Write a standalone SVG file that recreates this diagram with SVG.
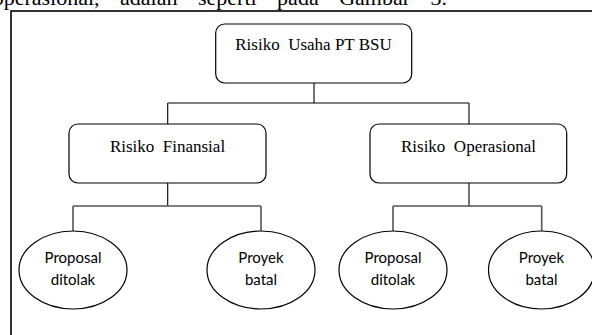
<svg xmlns="http://www.w3.org/2000/svg" width="592" height="335" viewBox="0 0 592 335">
<style>
.box{fill:#fff;stroke:#000;stroke-width:1.2}
.ell{fill:#fff;stroke:#000;stroke-width:1.2}
.t{font-family:"Liberation Serif","Times New Roman",serif;font-size:17px;fill:#000;text-anchor:middle;white-space:pre}
.e{font-family:Lato,"Liberation Sans",sans-serif;font-size:15px;fill:#000;text-anchor:middle}
.c1{fill:none;stroke:#000;stroke-width:1.1}
.c2{fill:none;stroke:#555;stroke-width:1.6}
</style>
<rect width="592" height="335" fill="#fff"/>
<text x="447" y="5" style="font-family:'Liberation Serif','Times New Roman',serif;font-size:22px;text-anchor:end;word-spacing:15px" fill="#000">operasional, adalah seperti pada Gambar 3.</text>
<rect id="frame" x="11" y="11" width="620" height="400" fill="none" stroke="#000" stroke-width="1.6"/>
<g id="connectors">
<path class="c1" d="M314 83V103M167.7 103H469M167.7 103V124M469 103V124"/>
<path class="c1" d="M167.7 183V206M469 183V206"/>
<path class="c2" d="M73 206H261M73 206V231M261 206V231M393 206H541.7M393 206V231M541.7 206V231"/>
</g>
<g id="n-usaha">
<rect class="box" x="215.7" y="24" width="196" height="59" rx="9"/>
<text class="t" x="313.5" y="50">Risiko  Usaha PT BSU</text>
</g>
<g id="n-finansial">
<rect class="box" x="69" y="124" width="197" height="59" rx="9"/>
<text class="t" x="167.5" y="152">Risiko  Finansial</text>
</g>
<g id="n-operasional">
<rect class="box" x="370" y="124" width="196.7" height="59" rx="9"/>
<text class="t" x="468.5" y="152">Risiko  Operasional</text>
</g>
<g id="n-proposal1">
<ellipse class="ell" cx="73" cy="270" rx="54" ry="39"/>
<text class="e" x="73" y="263">Proposal</text>
<text class="e" x="73" y="285">ditolak</text>
</g>
<g id="n-proyek1">
<ellipse class="ell" cx="261" cy="270" rx="54" ry="39"/>
<text class="e" x="261" y="263">Proyek</text>
<text class="e" x="261" y="285">batal</text>
</g>
<g id="n-proposal2">
<ellipse class="ell" cx="393" cy="270" rx="54" ry="39"/>
<text class="e" x="393" y="263">Proposal</text>
<text class="e" x="393" y="285">ditolak</text>
</g>
<g id="n-proyek2">
<ellipse class="ell" cx="541.5" cy="270" rx="53" ry="39"/>
<text class="e" x="541.5" y="263">Proyek</text>
<text class="e" x="541.5" y="285">batal</text>
</g>
</svg>
